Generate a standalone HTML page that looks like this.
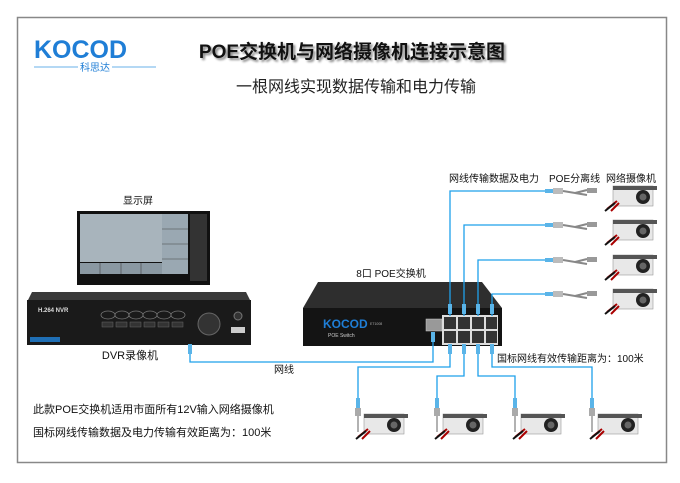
<!DOCTYPE html>
<html><head><meta charset="utf-8"><style>
body{margin:0;background:#fff;}
svg{display:block;font-family:"Liberation Sans","Noto Sans CJK SC",sans-serif;}
</style></head><body>
<svg width="680" height="483" viewBox="0 0 680 483" xmlns="http://www.w3.org/2000/svg">
<defs>
<g id="cam">
 <rect x="0" y="0" width="40" height="20" fill="#e8e8e8" stroke="#999" stroke-width="0.6"/>
 <rect x="0" y="0" width="44" height="4" fill="#555"/>
 <circle cx="30" cy="11" r="7" fill="#222"/>
 <circle cx="30" cy="11" r="3.5" fill="#666"/>
 <path d="M4 15 L-6 23 M6 17 L-2 25" stroke="#a00" stroke-width="2"/>
 <path d="M2 17 L-8 25" stroke="#111" stroke-width="2"/>
</g>
<g id="split">
 <rect x="0" y="-2" width="8" height="4" fill="#5ab4e8"/>
 <rect x="8" y="-3" width="10" height="6" fill="#bbb"/>
 <path d="M18 0 L30 2 L42 -1 M30 2 L42 4" stroke="#888" stroke-width="2" fill="none"/>
 <rect x="42" y="-3" width="10" height="5" fill="#999"/>
</g>
</defs>
<rect x="17.5" y="17.5" width="649" height="445" fill="#fff" stroke="#888" stroke-width="1.5"/>
<!-- logo -->
<text x="34" y="58" font-size="25" font-weight="bold" fill="#1f7ed6">KOCOD</text>
<line x1="34" y1="67" x2="78" y2="67" stroke="#6ab0e8"/>
<line x1="112" y1="67" x2="156" y2="67" stroke="#6ab0e8"/>
<text x="95" y="71" font-size="10" fill="#1f7ed6" text-anchor="middle">科思达</text>
<text x="352" y="58" font-size="19" font-weight="bold" fill="#111" text-anchor="middle" style="text-shadow:2px 2px 2px #888">POE交换机与网络摄像机连接示意图</text>
<text x="356" y="92" font-size="16" fill="#222" text-anchor="middle">一根网线实现数据传输和电力传输</text>
<!-- monitor -->
<text x="138" y="204" font-size="10" fill="#111" text-anchor="middle">显示屏</text>
<rect x="77" y="211" width="133" height="74" fill="#111"/>
<rect x="80" y="214" width="82" height="48" fill="#a8b4bc"/>
<rect x="162" y="214" width="26" height="60" fill="#9aa8b2"/>
<rect x="80" y="263" width="82" height="11" fill="#8a98a2"/>
<g stroke="#444" stroke-width="0.6"><line x1="162" y1="229" x2="188" y2="229"/><line x1="162" y1="244" x2="188" y2="244"/><line x1="162" y1="259" x2="188" y2="259"/><line x1="100" y1="263" x2="100" y2="274"/><line x1="121" y1="263" x2="121" y2="274"/><line x1="141" y1="263" x2="141" y2="274"/></g>
<rect x="190" y="214" width="17" height="67" fill="#333"/>
<!-- DVR -->
<path d="M32 292 L246 292 L250 300 L28 300 Z" fill="#3a3a3a"/>
<rect x="27" y="300" width="224" height="45" fill="#1a1a1a"/>
<text x="38" y="312" font-size="6" fill="#ddd" font-weight="bold">H.264  NVR</text>
<g fill="none" stroke="#777" stroke-width="0.8">
<ellipse cx="108" cy="315" rx="7" ry="4"/><ellipse cx="122" cy="315" rx="7" ry="4"/><ellipse cx="136" cy="315" rx="7" ry="4"/><ellipse cx="150" cy="315" rx="7" ry="4"/><ellipse cx="164" cy="315" rx="7" ry="4"/><ellipse cx="178" cy="315" rx="7" ry="4"/>
</g>
<g fill="#333" stroke="#666" stroke-width="0.5"><rect x="102" y="322" width="11" height="5"/><rect x="116" y="322" width="11" height="5"/><rect x="130" y="322" width="11" height="5"/><rect x="144" y="322" width="11" height="5"/><rect x="158" y="322" width="11" height="5"/><rect x="172" y="322" width="11" height="5"/></g>
<circle cx="209" cy="324" r="11" fill="#333" stroke="#666"/>
<circle cx="238" cy="316" r="4" fill="#333" stroke="#777"/>
<rect x="231" y="327" width="14" height="6" fill="#ccc"/>
<rect x="30" y="337" width="30" height="5" fill="#1f6fb5"/>
<text x="130" y="359" font-size="11" fill="#111" text-anchor="middle">DVR录像机</text>
<!-- switch -->
<text x="391" y="277" font-size="10" fill="#111" text-anchor="middle">8口 POE交换机</text>
<path d="M318 282 L482 282 L502 308 L303 308 Z" fill="#2e2e2e"/>
<rect x="303" y="308" width="199" height="38" fill="#141414"/>
<text x="323" y="328" font-size="12" font-weight="bold" fill="#1f7ed6">KOCOD</text>
<text x="328" y="337" font-size="5" fill="#ccc">POE Switch</text>
<text x="370" y="325" font-size="3.5" fill="#aaa">ET1008</text>
<rect x="426" y="319" width="16" height="12" fill="#999" stroke="#ccc" stroke-width="0.5"/>
<rect x="442" y="315" width="56" height="30" fill="#ddd"/>
<g fill="#333">
<rect x="444" y="317" width="12" height="12"/><rect x="458" y="317" width="12" height="12"/><rect x="472" y="317" width="12" height="12"/><rect x="486" y="317" width="11" height="12"/>
<rect x="444" y="331" width="12" height="12"/><rect x="458" y="331" width="12" height="12"/><rect x="472" y="331" width="12" height="12"/><rect x="486" y="331" width="11" height="12"/>
</g>
<!-- cables -->
<g fill="none" stroke="#1ea0ea" stroke-width="1.3">
<path d="M450 316 V191 H545"/>
<path d="M464 316 V225 H545"/>
<path d="M478 316 V260 H545"/>
<path d="M492 316 V294 H545"/>
<path d="M190 344 V362 H433 V332"/>
<path d="M450 344 V367 H358 V400"/>
<path d="M464 344 V376 H437 V400"/>
<path d="M478 344 V376 H515 V400"/>
<path d="M492 344 V367 H592 V400"/>
</g>
<g fill="#5ab4e8">
<rect x="448" y="304" width="4" height="10"/><rect x="462" y="304" width="4" height="10"/><rect x="476" y="304" width="4" height="10"/><rect x="490" y="304" width="4" height="10"/>
<rect x="448" y="344" width="4" height="10"/><rect x="462" y="344" width="4" height="10"/><rect x="476" y="344" width="4" height="10"/><rect x="490" y="344" width="4" height="10"/>
<rect x="431" y="332" width="4" height="10"/><rect x="188" y="344" width="4" height="10"/>
<rect x="356" y="398" width="4" height="10"/><rect x="435" y="398" width="4" height="10"/><rect x="513" y="398" width="4" height="10"/><rect x="590" y="398" width="4" height="10"/>
</g>
<g fill="#aaa">
<rect x="355" y="408" width="6" height="8"/><rect x="434" y="408" width="6" height="8"/><rect x="512" y="408" width="6" height="8"/><rect x="589" y="408" width="6" height="8"/>
</g>
<g stroke="#999" stroke-width="1.5">
<line x1="358" y1="416" x2="358" y2="432"/><line x1="437" y1="416" x2="437" y2="432"/><line x1="515" y1="416" x2="515" y2="432"/><line x1="592" y1="416" x2="592" y2="432"/>
</g>
<use href="#split" x="545" y="191"/><use href="#split" x="545" y="225"/><use href="#split" x="545" y="260"/><use href="#split" x="545" y="294"/>
<use href="#cam" x="613" y="186"/><use href="#cam" x="613" y="220"/><use href="#cam" x="613" y="255"/><use href="#cam" x="613" y="289"/>
<use href="#cam" x="364" y="414"/><use href="#cam" x="443" y="414"/><use href="#cam" x="521" y="414"/><use href="#cam" x="598" y="414"/>
<!-- labels -->
<g font-size="10" fill="#111">
<text x="449" y="182">网线传输数据及电力</text>
<text x="549" y="182">POE分离线</text>
<text x="606" y="182">网络摄像机</text>
<text x="497" y="362">国标网线有效传输距离为：100米</text>
<text x="274" y="373">网线</text>
<text x="33" y="413" font-size="11">此款POE交换机适用市面所有12V输入网络摄像机</text>
<text x="33" y="436" font-size="11">国标网线传输数据及电力传输有效距离为：100米</text>
</g>
</svg>
</body></html>
